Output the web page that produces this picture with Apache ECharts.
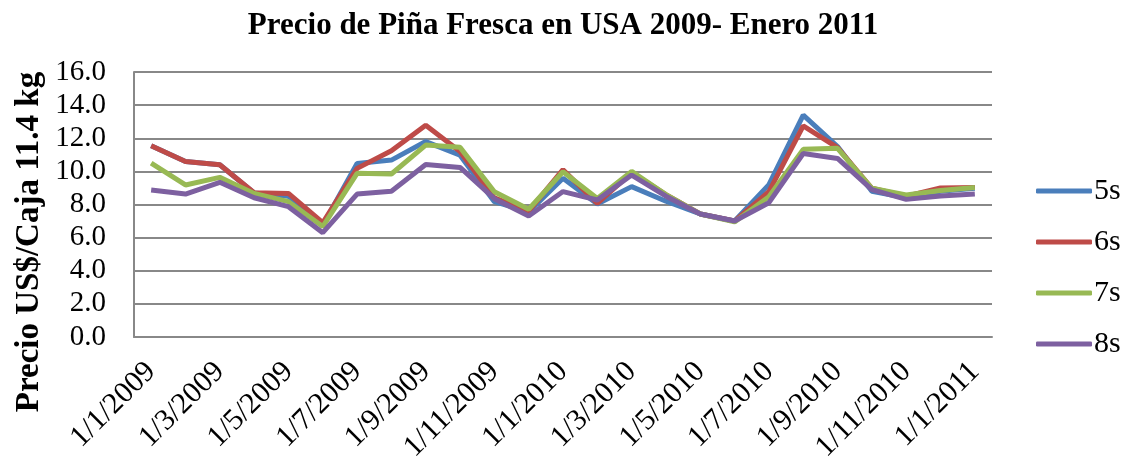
<!DOCTYPE html>
<html>
<head>
<meta charset="utf-8">
<script src="https://cdn.jsdelivr.net/npm/echarts@6/dist/echarts.min.js"></script>
<style>
  html, body { margin: 0; padding: 0; background: #fff; }
  #chart { width: 1132px; height: 468px; }
</style>
</head>
<body>
<div id="chart"></div>
<script>
var months = [
  '1/1/2009', '1/2/2009', '1/3/2009', '1/4/2009', '1/5/2009', '1/6/2009',
  '1/7/2009', '1/8/2009', '1/9/2009', '1/10/2009', '1/11/2009', '1/12/2009',
  '1/1/2010', '1/2/2010', '1/3/2010', '1/4/2010', '1/5/2010', '1/6/2010',
  '1/7/2010', '1/8/2010', '1/9/2010', '1/10/2010', '1/11/2010', '1/12/2010',
  '1/1/2011'
];
var s5 = [11.55, 10.6, 10.4, 8.7, 8.5, 6.75, 10.48, 10.68, 11.8, 10.98, 8.17, 7.55, 9.58, 8.03, 9.08, 8.2, 7.43, 7.0, 9.2, 13.4, 11.5, 8.8, 8.4, 8.8, 8.98];
var s6 = [11.55, 10.6, 10.4, 8.71, 8.67, 6.9, 10.18, 11.24, 12.79, 11.2, 8.4, 7.6, 10.1, 8.07, 9.92, 8.6, 7.43, 7.0, 8.78, 12.75, 11.43, 8.98, 8.5, 9.0, 9.02];
var s7 = [10.5, 9.18, 9.64, 8.67, 8.17, 6.67, 9.88, 9.84, 11.59, 11.45, 8.77, 7.71, 9.98, 8.37, 10.0, 8.6, 7.43, 6.95, 8.47, 11.33, 11.39, 8.98, 8.57, 8.84, 9.02];
var s8 = [8.88, 8.63, 9.34, 8.41, 7.87, 6.3, 8.63, 8.8, 10.42, 10.24, 8.35, 7.31, 8.78, 8.27, 9.78, 8.5, 7.43, 7.0, 8.11, 11.08, 10.78, 8.9, 8.31, 8.51, 8.63];

var seriesNames = ['5s', '6s', '7s', '8s'];
var seriesColors = ['#4a7ebb', '#be4b48', '#98b954', '#7d60a0'];
var seriesData = [s5, s6, s7, s8];

var font = 'Liberation Serif';
var myChart = echarts.init(document.getElementById('chart'));

var option = {
  backgroundColor: '#fff',
  animation: false,
  title: {
    text: 'Precio de Piña Fresca en USA 2009- Enero 2011',
    left: 558,
    textAlign: 'center',
    top: 5,
    textStyle: { fontFamily: font, fontSize: 31, fontWeight: 'bold', color: '#000' }
  },
  graphic: [{
    type: 'text',
    x: 29,
    y: 242,
    rotation: Math.PI / 2,
    style: {
      text: 'Precio US$/Caja 11.4 kg',
      fontFamily: font,
      fontSize: 33,
      fontWeight: 'bold',
      fill: '#000',
      align: 'center',
      verticalAlign: 'middle'
    }
  }],
  legend: {
    orient: 'vertical',
    left: 1031,
    top: 171,
    itemWidth: 56,
    itemHeight: 5,
    itemGap: 21,
    icon: 'roundRect',
    data: seriesNames,
    textStyle: { fontFamily: font, fontSize: 30, color: '#000', lineHeight: 30, padding: [0, 0, 0, -3] }
  },
  grid: { left: 134, right: 140, top: 72, bottom: 131 },
  xAxis: {
    type: 'category',
    data: months,
    boundaryGap: true,
    axisLine: { lineStyle: { color: '#888', width: 2 } },
    axisTick: { show: false },
    axisLabel: {
      interval: 1,
      rotate: 45,
      margin: 30,
      fontFamily: font,
      fontSize: 30,
      color: '#000'
    }
  },
  yAxis: {
    type: 'value',
    min: 0,
    max: 16,
    interval: 2,
    axisLine: { show: true, lineStyle: { color: '#888', width: 2 } },
    axisTick: { show: false },
    splitLine: { lineStyle: { color: '#888', width: 2 } },
    axisLabel: {
      margin: 28,
      fontFamily: font,
      fontSize: 29,
      color: '#000',
      formatter: function (v) { return v.toFixed(1); }
    }
  },
  series: seriesNames.map(function (name, i) {
    return {
      name: name,
      type: 'line',
      data: seriesData[i],
      showSymbol: false,
      symbol: 'none',
      color: seriesColors[i],
      lineStyle: { width: 5, color: seriesColors[i] }
    };
  })
};

option && myChart.setOption(option);
</script>
</body>
</html>
